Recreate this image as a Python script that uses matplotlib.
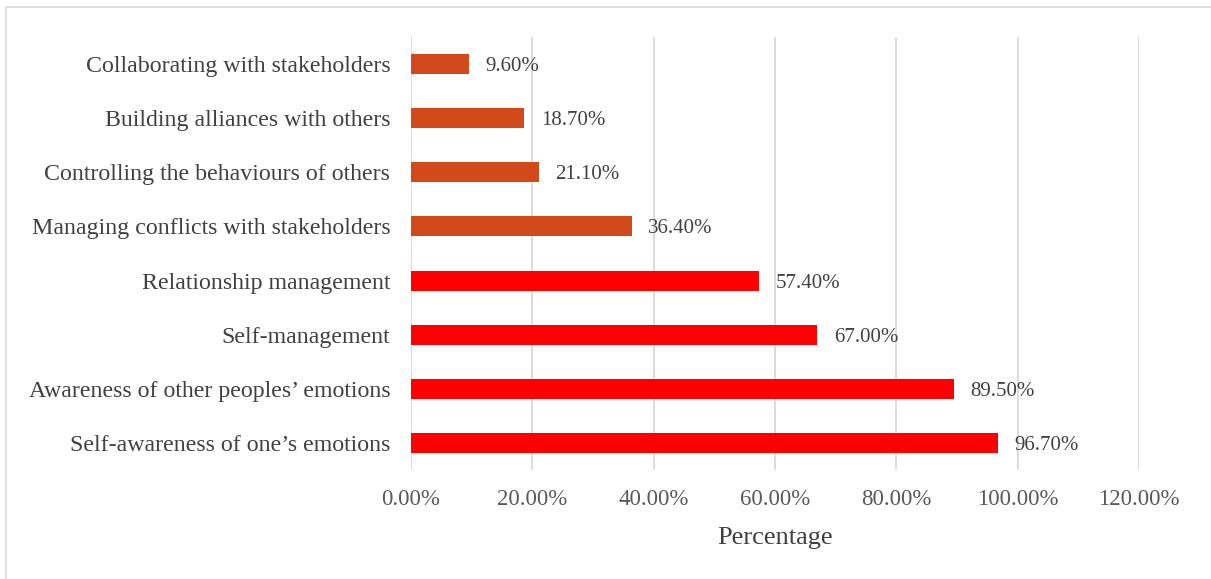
import matplotlib.pyplot as plt
from matplotlib.patches import Rectangle
from matplotlib.ticker import FuncFormatter, MultipleLocator

plt.rcParams['font.family'] = ['Liberation Serif', 'DejaVu Serif']

categories = [
    "Self-awareness of one\u2019s emotions",
    "Awareness of other peoples\u2019 emotions",
    "Self-management",
    "Relationship management",
    "Managing conflicts with stakeholders",
    "Controlling the behaviours of others",
    "Building alliances with others",
    "Collaborating with stakeholders",
]
values = [96.7, 89.5, 67.0, 57.4, 36.4, 21.1, 18.7, 9.6]
colors = ["#FF0000"] * 4 + ["#D24A1A"] * 4

fig = plt.figure(figsize=(12.11, 5.79), dpi=100)
ax = fig.add_axes([411 / 1211, 1 - 470 / 579, (1139 - 411) / 1211, (470 - 37) / 579])

y = range(len(categories))
ax.barh(y, values, height=0.37, color=colors, zorder=3)
for yi, v in zip(y, values):
    ax.text(v + 2.7, yi, f"{v:.2f}%", va="center_baseline", ha="left",
            fontsize=15, color="#404040")

ax.set_xlim(0, 120)
ax.set_ylim(-0.5, len(categories) - 0.5)
ax.xaxis.set_major_locator(MultipleLocator(20))
ax.xaxis.set_major_formatter(FuncFormatter(lambda x, p: f"{x:.2f}%"))
ax.set_yticks(list(y))
ax.set_yticklabels(categories, fontsize=17.2, color="#404040")
ax.tick_params(axis="x", labelsize=16.5, labelcolor="#595959", length=0, pad=14)
ax.tick_params(axis="y", length=0, pad=15)
ax.grid(axis="x", color="#D9D9D9", linewidth=1.3, zorder=0)
for s in ax.spines.values():
    s.set_visible(False)
ax.set_xlabel("Percentage", fontsize=19, color="#404040", labelpad=12)

fig.patches.append(Rectangle((5.5 / 1211, -0.01), 1.02, 1 - 7 / 579 + 0.01,
                             transform=fig.transFigure, fill=False,
                             edgecolor="#D9D9D9", linewidth=1.2))

fig.savefig("out.png", dpi=100)
